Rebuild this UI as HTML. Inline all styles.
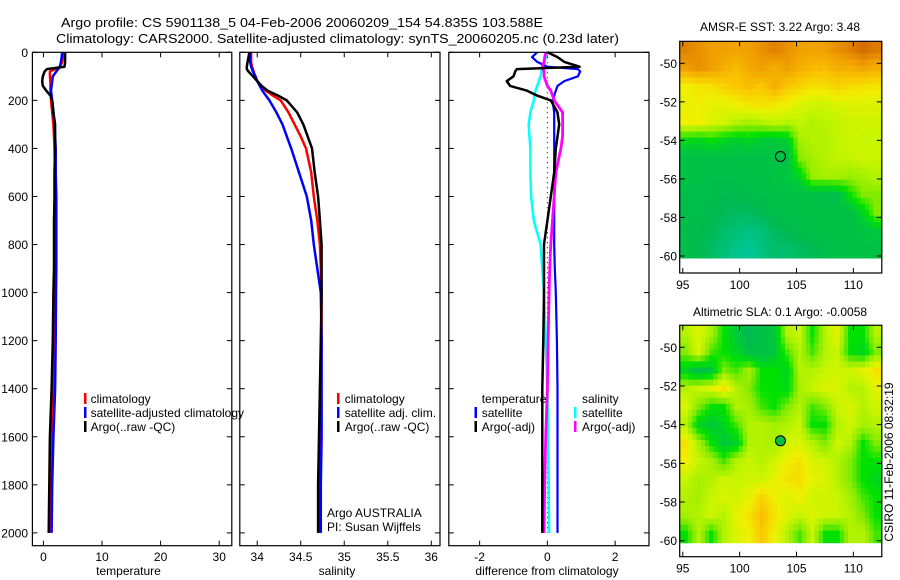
<!DOCTYPE html>
<html><head><meta charset="utf-8"><style>
html,body{margin:0;padding:0;background:#fff;}
svg{display:block;font-family:"Liberation Sans",sans-serif;}
</style></head><body>
<svg id="fig" width="900" height="580" viewBox="0 0 900 580" xmlns="http://www.w3.org/2000/svg">
<text x="61" y="27" font-size="13" textLength="482" lengthAdjust="spacingAndGlyphs">Argo profile: CS 5901138_5 04-Feb-2006 20060209_154 54.835S 103.588E</text>
<text x="56" y="43" font-size="13" textLength="563" lengthAdjust="spacingAndGlyphs">Climatology: CARS2000. Satellite-adjusted climatology: synTS_20060205.nc (0.23d later)</text>
<g id="plots"></g>
</svg>
<script>
// ---------- data ----------
const depths = [0,20,40,60,70,80,100,120,140,160,180,200,250,300,350,400,500,600,700,800,900,1000,1200,1400,1600,1800,2000];
const tempArgo = [3.7,3.7,3.7,3.6,0.6,0.2,-0.1,-0.2,-0.1,0.5,1.2,1.5,1.7,2.0,2.0,2.0,1.9,1.9,1.8,1.8,1.8,1.7,1.6,1.4,1.1,1.0,0.9];
const tempClim = [3.4,3.3,3.2,2.8,2.0,1.1,1.1,1.2,1.2,1.2,1.3,1.3,1.5,1.7,1.8,1.9,2.0,2.0,2.0,2.0,2.0,2.0,1.9,1.7,1.4,1.2,1.1];
const tempSat = [3.2,3.1,3.0,2.8,2.5,2.2,1.6,1.5,1.4,1.3,1.4,1.5,1.7,1.9,2.0,2.1,2.1,2.2,2.2,2.2,2.2,2.15,2.1,2.0,1.7,1.5,1.4];
const salArgo = [33.91,33.90,33.89,33.88,33.88,33.90,33.95,34.0,34.05,34.12,34.24,34.34,34.46,34.53,34.58,34.63,34.66,34.70,34.72,34.74,34.74,34.74,34.73,34.72,34.71,34.70,34.70];
const salClim = [33.93,33.93,33.93,33.94,33.95,33.96,33.97,34.0,34.04,34.10,34.18,34.27,34.36,34.43,34.50,34.56,34.62,34.65,34.69,34.72,34.73,34.74,34.74,34.73,34.73,34.72,34.72];
const salSat = [33.92,33.92,33.92,33.93,33.94,33.95,33.98,34.0,34.03,34.06,34.10,34.14,34.22,34.29,34.34,34.39,34.48,34.57,34.62,34.65,34.69,34.73,34.74,34.74,34.74,34.73,34.73];
const dTempSat = [-0.3,-0.45,-0.3,0.0,0.9,0.97,0.9,0.5,0.3,0.25,0.2,0.15,0.2,0.2,0.2,0.2,0.2,0.2,0.2,0.2,0.22,0.25,0.28,0.3,0.3,0.3,0.3];
const dTempArgo = [0.0,0.3,0.5,0.95,-0.9,-0.95,-1.0,-1.2,-1.1,-0.6,-0.3,0.1,0.3,0.35,0.3,0.25,0.2,0.1,0.0,-0.1,-0.1,-0.1,-0.12,-0.15,-0.15,-0.15,-0.15];
const dSalSat = [0.0,-0.05,-0.08,-0.1,-0.15,-0.18,-0.2,-0.25,-0.3,-0.35,-0.38,-0.4,-0.5,-0.55,-0.53,-0.5,-0.5,-0.48,-0.4,-0.2,-0.15,-0.1,-0.05,0.0,0.02,0.04,0.05];
const dSalArgo = [-0.05,-0.08,-0.1,-0.15,-0.12,-0.1,-0.1,-0.05,0.0,0.1,0.15,0.2,0.45,0.45,0.45,0.4,0.25,0.2,0.15,0.1,0.07,0.05,0.02,0.0,-0.05,-0.08,-0.1];
const depthTicks = [0,200,400,600,800,1000,1200,1400,1600,1800,2000];
const tempTicks = [0,10,20,30];
const salTicks = [34,34.5,35,35.5,36];
const diffTicks = [-2,0,2];
const lonTicks = [95,100,105,110];
const latTicks = [-50,-52,-54,-56,-58,-60];
const sstGrid = [
[.92,.9,.88,.88,.87,.88,.9,.92,.9,.88,.87,.88,.9,.92,.95,.93],
[.88,.9,.88,.85,.82,.86,.88,.85,.88,.85,.83,.82,.85,.85,.87,.85],
[.72,.74,.75,.78,.8,.82,.8,.85,.8,.78,.75,.76,.78,.76,.75,.74],
[.7,.72,.7,.7,.72,.74,.75,.74,.72,.68,.66,.66,.68,.68,.69,.68],
[.72,.72,.68,.66,.62,.6,.62,.64,.62,.64,.62,.63,.64,.66,.66,.66],
[.42,.4,.44,.4,.38,.4,.36,.35,.38,.6,.62,.62,.64,.66,.65,.65],
[.3,.3,.3,.3,.3,.3,.3,.3,.3,.55,.6,.62,.64,.64,.66,.65],
[.32,.3,.28,.28,.28,.3,.3,.32,.34,.4,.58,.6,.6,.58,.6,.62],
[.28,.28,.28,.26,.26,.28,.28,.3,.3,.3,.3,.28,.3,.45,.55,.55],
[.28,.28,.26,.24,.22,.22,.25,.28,.3,.3,.3,.3,.3,.3,.4,.55],
[.28,.26,.24,.2,.18,.16,.18,.22,.26,.28,.3,.3,.3,.3,.32,.35],
[.28,.26,.22,.18,.14,.12,.16,.2,.2,.22,.24,.28,.3,.3,.3,.3]];
const slaGrid = [
[.62,.68,.6,.45,.35,.25,.3,.35,.62,.65,.45,.62,.7,.45,.45,.62],
[.55,.68,.5,.45,.4,.3,.3,.35,.5,.62,.5,.62,.65,.45,.4,.55],
[.4,.3,.35,.55,.5,.6,.45,.45,.4,.62,.62,.65,.66,.66,.7,.75],
[.62,.65,.68,.75,.62,.55,.45,.45,.42,.6,.65,.68,.68,.62,.62,.7],
[.68,.55,.45,.45,.62,.6,.5,.45,.55,.62,.5,.55,.65,.68,.62,.66],
[.62,.4,.35,.4,.5,.62,.62,.6,.62,.65,.45,.45,.62,.66,.6,.62],
[.75,.6,.45,.35,.38,.62,.62,.6,.66,.68,.62,.55,.66,.62,.45,.55],
[.72,.65,.6,.5,.62,.65,.62,.66,.72,.75,.68,.66,.62,.55,.45,.45],
[.65,.6,.62,.66,.65,.66,.66,.7,.75,.76,.7,.68,.62,.55,.45,.4],
[.62,.6,.65,.68,.66,.7,.78,.72,.68,.72,.66,.66,.65,.6,.5,.45],
[.6,.62,.66,.62,.7,.75,.82,.75,.68,.65,.68,.66,.65,.62,.55,.45],
[.45,.62,.45,.62,.68,.72,.8,.72,.62,.5,.65,.45,.45,.62,.62,.5]];
const argoLon = 103.588, argoLat = -54.835;

// ---------- drawing ----------
const NS='http://www.w3.org/2000/svg';
const root=document.getElementById('plots');
function mk(tag,attrs,parent,txt){const e=document.createElementNS(NS,tag);for(const k in attrs)e.setAttribute(k,attrs[k]);if(txt!==undefined)e.textContent=txt;(parent||root).appendChild(e);return e;}
const yTop=52.3, yBot=545.7;
function yD(d){return 52.3+d*0.2403;}
const panels=[
 {name:'temperature',x0:32.4,x1:231.8,v0:-1.88,v1:32.15,ticks:tempTicks,label:'temperature',lx:128.5},
 {name:'salinity',x0:239.8,x1:440,v0:33.80,v1:36.10,ticks:salTicks,label:'salinity',lx:337},
 {name:'difference',x0:448.8,x1:649,v0:-2.91,v1:3.0,ticks:diffTicks,label:'difference from climatology',lx:547}];
function xf(p){return v=>p.x0+(v-p.v0)/(p.v1-p.v0)*(p.x1-p.x0);}
function line(p,vals,color,w,name,g){const X=xf(p);const pts=vals.map((v,i)=>X(v).toFixed(1)+','+yD(depths[i]).toFixed(1)).join(' ');
 const el=mk('polyline',{points:pts,fill:'none',stroke:color,'stroke-width':w,'stroke-linejoin':'round'},g);
 
 }
panels.forEach((p,pi)=>{
 const g=mk('g',{});
 
 
 const X=xf(p);
 p.ticks.forEach(t=>{const x=X(t);
  mk('line',{x1:x,x2:x,y1:yBot,y2:yBot-5,stroke:'#000'},g);
  mk('line',{x1:x,x2:x,y1:yTop,y2:yTop+5,stroke:'#000'},g);
  const tl=mk('text',{x:x,y:561,'font-size':12,'text-anchor':'middle'},g,String(t));
  
  });
 depthTicks.forEach(d=>{const y=yD(d);
  mk('line',{x1:p.x0,x2:p.x0+5,y1:y,y2:y,stroke:'#000'},g);
  mk('line',{x1:p.x1,x2:p.x1-5,y1:y,y2:y,stroke:'#000'},g);
  if(pi===0){const tl=mk('text',{x:28,y:y+4.5,'font-size':12,'text-anchor':'end'},g,String(d));
   
   }});
 const xl=mk('text',{x:p.lx,y:575,'font-size':12,'text-anchor':'middle'},g,p.label);
 
 
 if(pi===0){line(p,tempClim,'#ff0000',2.5,'temp-climatology-line',g);line(p,tempSat,'#0000ff',2.5,'temp-satellite-line',g);line(p,tempArgo,'#000',2.5,'temp-argo-line',g);}
 if(pi===1){line(p,salClim,'#ff0000',2.5,'sal-climatology-line',g);line(p,salSat,'#0000ff',2.5,'sal-satellite-line',g);line(p,salArgo,'#000',2.5,'sal-argo-line',g);}
 if(pi===2){const x=X(0);const z=mk('line',{x1:x,x2:x,y1:yD(0),y2:yD(2000),stroke:'#000','stroke-width':1,'stroke-dasharray':'1,4'},g);
  
  
  line(p,dSalSat,'#00ffff',2.5,'diff-sal-satellite-line',g);line(p,dTempSat,'#0000ff',2.2,'diff-temp-satellite-line',g);
  line(p,dSalArgo,'#ff00ff',2.8,'diff-sal-argo-line',g);line(p,dTempArgo,'#000',2.5,'diff-temp-argo-line',g);}
 const fr=mk('rect',{x:p.x0,y:yTop,width:p.x1-p.x0,height:yBot-yTop,fill:'none',stroke:'#000','stroke-width':1.2},g);
 
 
});
function legend(items,g){items.forEach(it=>{
 if(it.c)mk('rect',{x:it.x,y:it.y-10,width:2.5,height:11,fill:it.c},g);
 const t=mk('text',{x:it.tx,y:it.y,'font-size':12},g,it.t);
 
 });}
const lg=mk('g',{});


legend([{x:84,tx:90.6,y:403,c:'#ff0000',t:'climatology'},{x:84,tx:90.6,y:417,c:'#0000ff',t:'satellite-adjusted climatology'},{x:84,tx:90.6,y:431,c:'#000',t:'Argo(..raw -QC)'},
 {x:337,tx:344.7,y:403,c:'#ff0000',t:'climatology'},{x:337,tx:344.7,y:417,c:'#0000ff',t:'satellite adj. clim.'},{x:337,tx:344.7,y:431,c:'#000',t:'Argo(..raw -QC)'},
 {tx:481.7,y:403,t:'temperature'},{x:474.5,tx:481.7,y:417,c:'#0000ff',t:'satellite'},{x:474.5,tx:481.7,y:431,c:'#000',t:'Argo(-adj)'},
 {tx:582,y:403,t:'salinity'},{x:574,tx:582,y:417,c:'#00ffff',t:'satellite'},{x:574,tx:582,y:431,c:'#ff00ff',t:'Argo(-adj)'},
 {tx:327,y:517,t:'Argo AUSTRALIA'},{tx:327,y:531,t:'PI: Susan Wijffels'}],lg);
// colour map
const stops=[[0.1,[0,200,160]],[0.25,[0,185,80]],[0.35,[0,200,60]],[0.45,[0,225,0]],[0.55,[130,235,0]],[0.65,[200,245,0]],[0.72,[240,240,0]],[0.8,[250,200,0]],[0.88,[240,160,0]],[0.96,[210,100,0]]];
function cmap(v){if(v<=stops[0][0])return 'rgb('+stops[0][1]+')';for(let i=1;i<stops.length;i++){if(v<=stops[i][0]){const a=stops[i-1],b=stops[i];const f=(v-a[0])/(b[0]-a[0]);return 'rgb('+a[1].map((c,k)=>Math.round(c+(b[1][k]-c)*f)).join(',')+')';}}return 'rgb('+stops[stops.length-1][1]+')';}
function sample(grid,fr,fc){const R=grid.length,C=grid[0].length;
 let r=Math.min(Math.max(fr-0.5,0),R-1),c=Math.min(Math.max(fc-0.5,0),C-1);
 const r0=Math.floor(r),c0=Math.floor(c),r1=Math.min(r0+1,R-1),c1=Math.min(c0+1,C-1),a=r-r0,b=c-c0;
 return grid[r0][c0]*(1-a)*(1-b)+grid[r0][c1]*(1-a)*b+grid[r1][c0]*a*(1-b)+grid[r1][c1]*a*b;}
function drawMap(m){
 const g=mk('g',{});
 
 
 const x0=679.7,x1=881.8,lon0=94.73,lon1=112.5;
 const LX=lon=>x0+(lon-lon0)/(lon1-lon0)*(x1-x0);
 const LY=lat=>m.y50+(-50-lat)*m.dy;
 const rows=m.grid.length,cols=m.grid[0].length,S=3;
 const latTop=-48.86,latBot=-60.1;
 for(let r=0;r<rows*S;r++)for(let c=0;c<cols*S;c++){
  const la=latTop+(latBot-latTop)*r/(rows*S), lb=latTop+(latBot-latTop)*(r+1)/(rows*S);
  const oa=lon0+(lon1-lon0)*c/(cols*S), ob=lon0+(lon1-lon0)*(c+1)/(cols*S);
  const v=sample(m.grid,(r+0.5)/S,(c+0.5)/S);
  const cell=mk('rect',{x:LX(oa).toFixed(1),y:LY(la).toFixed(1),width:(LX(ob)-LX(oa)+0.6).toFixed(1),height:(LY(lb)-LY(la)+0.6).toFixed(1),fill:cmap(v)},g);
  
  }
 const yt=LY(-48.86), yb=m.yb;
 lonTicks.forEach(l=>{const x=LX(l);mk('line',{x1:x,x2:x,y1:yb,y2:yb-5,stroke:'#000'},g);mk('line',{x1:x,x2:x,y1:yt,y2:yt+5,stroke:'#000'},g);
  const t=mk('text',{x:x,y:yb+16,'font-size':12,'text-anchor':'middle'},g,String(l));
  
  });
 latTicks.forEach(l=>{const y=LY(l);mk('line',{x1:x0,x2:x0+5,y1:y,y2:y,stroke:'#000'},g);mk('line',{x1:x1,x2:x1-5,y1:y,y2:y,stroke:'#000'},g);
  const t=mk('text',{x:677,y:y+4.5,'font-size':12,'text-anchor':'end'},g,String(l));
  
  });
 const fr=mk('rect',{x:x0,y:yt,width:x1-x0,height:yb-yt,fill:'none',stroke:'#000','stroke-width':1.2},g);
 
 
 const ci=mk('circle',{cx:LX(argoLon),cy:LY(argoLat),r:5,fill:m.dot,stroke:'#000','stroke-width':1},g);
 
 
 const ti=mk('text',{x:780,y:m.ty,'font-size':12,'text-anchor':'middle'},g,m.title);
 
 
}
drawMap({name:'sst-map',grid:sstGrid,y50:63.3,dy:19.27,yb:273,ty:31,dot:'none',title:'AMSR-E SST: 3.22 Argo: 3.48'});
drawMap({name:'sla-map',grid:slaGrid,y50:347.3,dy:19.34,yb:556.7,ty:316,dot:'#00c040',title:'Altimetric SLA: 0.1 Argo: -0.0058'});
const cs=mk('text',{x:0,y:0,'font-size':12,'text-anchor':'middle',transform:'translate(893,462) rotate(-90)'});
cs.textContent='CSIRO 11-Feb-2006 08:32:19';


</script>
</body></html>
